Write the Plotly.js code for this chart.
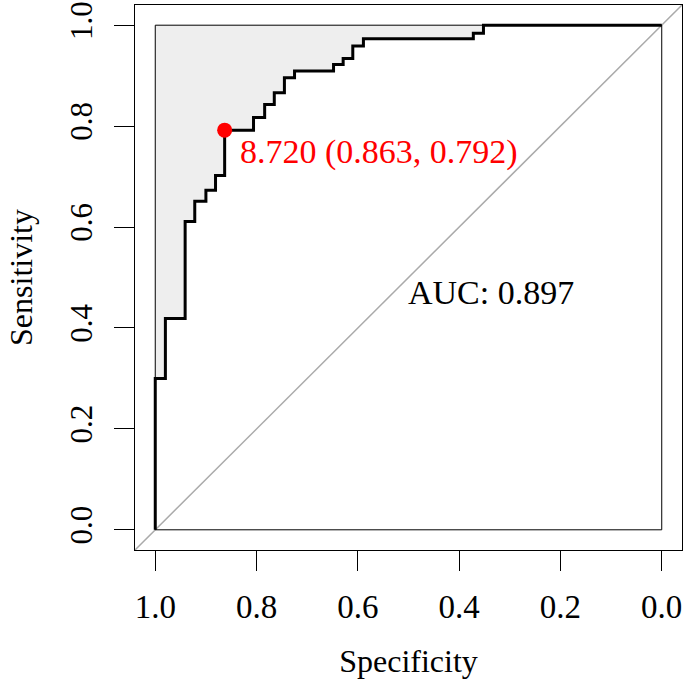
<!DOCTYPE html>
<html>
<head>
<meta charset="utf-8">
<script src="https://cdn.plot.ly/plotly-3.0.1.min.js"></script>
<style>html,body{margin:0;padding:0;background:#fff;}#chart{width:685px;height:693px;}</style>
</head>
<body>
<div id="chart"></div>
<script>
// ROC curve points (specificity, sensitivity)
const specificity = [1.000, 1.000, 0.980, 0.980, 0.941, 0.941, 0.922, 0.922, 0.900, 0.900, 0.881, 0.881, 0.863, 0.863,
  0.806, 0.806, 0.784, 0.784, 0.765, 0.765, 0.745, 0.745, 0.725, 0.725, 0.648, 0.648, 0.629, 0.629,
  0.610, 0.610, 0.589, 0.589, 0.372, 0.372, 0.352, 0.352, 0.000];
const sensitivity = [0.000, 0.300, 0.300, 0.419, 0.419, 0.611, 0.611, 0.651, 0.651, 0.673, 0.673, 0.702, 0.702, 0.792,
  0.792, 0.817, 0.817, 0.843, 0.843, 0.866, 0.866, 0.896, 0.896, 0.909, 0.909, 0.922, 0.922, 0.934,
  0.934, 0.959, 0.959, 0.973, 0.973, 0.984, 0.984, 1.000, 1.000];
// best threshold
const bestThreshold = 8.720;
const bestSpec = 0.863;
const bestSens = 0.792;
const aucValue = 0.897;
const tickVals = [0, 0.2, 0.4, 0.6, 0.8, 1.0];
const tickText = ["0.0", "0.2", "0.4", "0.6", "0.8", "1.0"];

const FONT = "Liberation Serif, Times New Roman, serif";

const fillTrace = {
  x: specificity.concat([1]),
  y: sensitivity.concat([1]),
  type: 'scatter', mode: 'lines', fill: 'toself',
  fillcolor: '#eeeeee', line: {width: 0, color: 'rgba(0,0,0,0)'},
  hoverinfo: 'skip', showlegend: false
};
const curveTrace = {
  x: specificity, y: sensitivity,
  type: 'scatter', mode: 'lines',
  line: {color: '#000000', width: 3},
  showlegend: false
};
const bestTrace = {
  x: [bestSpec], y: [bestSens],
  type: 'scatter', mode: 'markers',
  marker: {color: '#ff0000', size: 15},
  showlegend: false
};

const layout = {
  width: 685, height: 693,
  margin: {l: 135, r: 3, t: 5, b: 143},
  paper_bgcolor: '#ffffff', plot_bgcolor: '#ffffff',
  font: {family: FONT, size: 32, color: '#000000'},
  xaxis: {
    range: [1.04, -0.04], autorange: false,
    tickvals: tickVals, ticktext: tickText,
    ticks: 'outside', ticklen: 20, tickwidth: 1, tickcolor: '#000',
    showline: true, mirror: true, linecolor: '#000', linewidth: 1,
    showgrid: false, zeroline: false,
    ticklabelstandoff: 7, ticklabeloverflow: 'allow',
    tickfont: {family: FONT, size: 33, color: '#000'},
    title: {text: 'Specificity', font: {family: FONT, size: 32, color: '#000'}, standoff: 26}
  },
  yaxis: {
    range: [-0.04, 1.04], autorange: false,
    tickvals: tickVals, ticktext: tickText,
    ticks: 'outside', ticklen: 20, tickwidth: 1, tickcolor: '#000',
    tickangle: -90,
    showline: true, mirror: true, linecolor: '#000', linewidth: 1,
    showgrid: false, zeroline: false,
    ticklabelstandoff: 10, ticklabeloverflow: 'allow',
    tickfont: {family: FONT, size: 31, color: '#000'},
    title: {text: 'Sensitivity', font: {family: FONT, size: 32, color: '#000'}, standoff: 21}
  },
  shapes: [
    {type: 'line', xref: 'x', yref: 'y', x0: 1.04, y0: -0.04, x1: -0.04, y1: 1.04,
     line: {color: '#aaaaaa', width: 1.5}, layer: 'below'},
    {type: 'rect', xref: 'x', yref: 'y', x0: 1, y0: 0, x1: 0, y1: 1,
     line: {color: '#000000', width: 1}, fillcolor: 'rgba(0,0,0,0)', layer: 'above'}
  ],
  annotations: [
    {x: bestSpec, y: bestSens, xref: 'x', yref: 'y', xanchor: 'left', yanchor: 'middle',
     xshift: 13, yshift: -22, showarrow: false,
     text: bestThreshold.toFixed(3) + ' (' + bestSpec.toFixed(3) + ', ' + bestSens.toFixed(3) + ')',
     font: {family: FONT, size: 34, color: '#ff0000'}},
    {x: 0.5, y: 0.5, xref: 'x', yref: 'y', xanchor: 'left', yanchor: 'top',
     xshift: -3, yshift: 6, showarrow: false, text: 'AUC: ' + aucValue.toFixed(3),
     font: {family: FONT, size: 34, color: '#000'}}
  ]
};

Plotly.newPlot('chart', [fillTrace, curveTrace, bestTrace], layout, {displayModeBar: false, staticPlot: true});
</script>
</body>
</html>
